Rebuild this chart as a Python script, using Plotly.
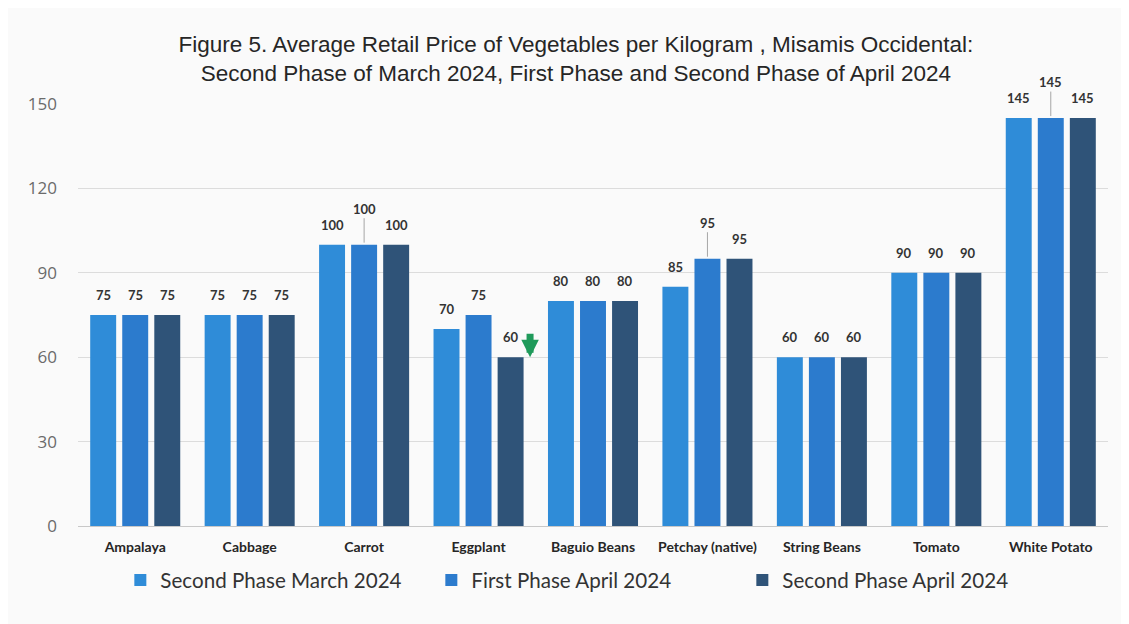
import plotly.graph_objects as go

# ---- data ----
categories = ["Ampalaya", "Cabbage", "Carrot", "Eggplant", "Baguio Beans",
              "Petchay (native)", "String Beans", "Tomato", "White Potato"]
series_names = ["Second Phase March 2024", "First Phase April 2024", "Second Phase April 2024"]
mar_2nd = [75, 75, 100, 70, 80, 85, 60, 90, 145]
apr_1st = [75, 75, 100, 75, 80, 95, 60, 90, 145]
apr_2nd = [75, 75, 100, 60, 80, 95, 60, 90, 145]
y_ticks = [0, 30, 60, 90, 120, 150]
raised_labels = ["Carrot", "Petchay (native)", "White Potato"]  # middle-series labels with leader line
decrease_item = "Eggplant"

series = [mar_2nd, apr_1st, apr_2nd]
colors = ["#2F8CD8", "#2C7BCD", "#2F5378"]

BARGAP = 0.16
BARGROUPGAP = 0.19
slot = (1 - BARGAP) / len(series)

fig = go.Figure()
for name, vals, col in zip(series_names, series, colors):
    fig.add_trace(go.Bar(x=categories, y=vals, name=name,
                         marker=dict(color=col, line=dict(width=0))))

label_font = dict(family="Lato", size=13, color="#333333", weight="bold")
annotations = []
for j, vals in enumerate(series):
    off = (j - 1) * slot
    for i, (cat, v) in enumerate(zip(categories, vals)):
        if j == 1 and cat in raised_labels:
            annotations.append(dict(x=i + off, y=v, xref="x", yref="y", text=str(v),
                                    showarrow=True, arrowhead=0, arrowwidth=1,
                                    arrowcolor="#a6a6a6", ax=0, ay=-36, standoff=2,
                                    font=label_font))
        else:
            annotations.append(dict(x=i + off, y=v, xref="x", yref="y", text=str(v),
                                    showarrow=False, yshift=20, font=label_font))

# green "decrease" arrow beside the latest Eggplant bar
ei = categories.index(decrease_item)
annotations.append(dict(x=ei + slot + 0.17, y=apr_2nd[ei], xref="x", yref="y", text="",
                        showarrow=True, arrowhead=2, arrowsize=0.5, arrowwidth=7,
                        arrowcolor="#1F9A5A", ax=0, ay=-25, standoff=0))

fig.update_layout(
    width=1129, height=624,
    paper_bgcolor="#fafafa", plot_bgcolor="#fafafa",
    margin=dict(l=70, r=29, t=96, b=106, autoexpand=False),
    barmode="group", bargap=BARGAP, bargroupgap=BARGROUPGAP,
    title=dict(text="Figure 5. Average Retail Price of Vegetables per Kilogram , Misamis Occidental:<br>"
                    "Second Phase of March 2024, First Phase and Second Phase of April 2024",
               x=0.503, xanchor="center", xref="container", y=1 - 44 / 624, yanchor="top", yref="container",
               font=dict(family="Liberation Sans", size=22.5, color="#262626")),
    xaxis=dict(tickfont=dict(family="Lato", size=14, color="#262626", weight="bold"),
               showgrid=False, showline=False, ticks="", ticklabelstandoff=11, automargin=False),
    yaxis=dict(range=[0, 150], tickvals=y_ticks, showgrid=True, gridcolor="#dcdcdc",
               gridwidth=1, zeroline=True, zerolinecolor="#c8c8c8", zerolinewidth=1,
               tickfont=dict(family="Open Sans", size=17, color="#6b6b6b"),
               ticklabelstandoff=20, automargin=False),
    legend=dict(orientation="h", xref="container", x=0.5127, xanchor="center",
                yref="container", y=1 - 572 / 624, yanchor="middle",
                font=dict(family="Lato", size=20.6, color="#333333"),
                bgcolor="rgba(0,0,0,0)", itemwidth=30, entrywidth=266),
    annotations=annotations,
)

fig.write_html("out.html")
